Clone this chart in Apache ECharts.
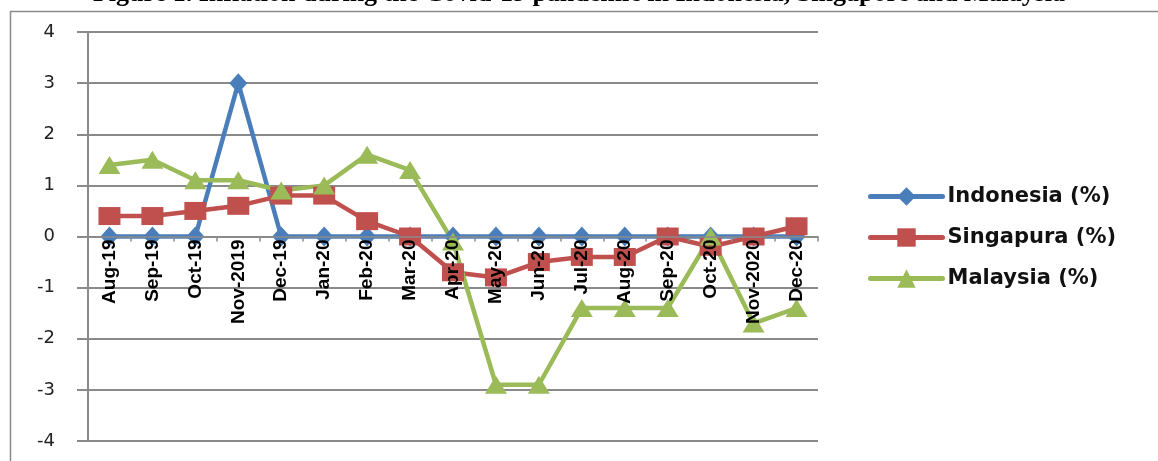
<!DOCTYPE html>
<html>
<head>
<meta charset="utf-8">
<script src="https://cdn.jsdelivr.net/npm/echarts@6/dist/echarts.min.js"></script>
<style>
    html, body { margin: 0; padding: 0; background: #fff; }
    #main { width: 1158px; height: 461px; }
</style>
</head>
<body>
<div id="main"></div>
<script>
var months = ['Aug-19', 'Sep-19', 'Oct-19', 'Nov-2019', 'Dec-19', 'Jan-20', 'Feb-20', 'Mar-20', 'Apr-20',
    'May-20', 'Jun-20', 'Jul-20', 'Aug-20', 'Sep-20', 'Oct-20', 'Nov-2020', 'Dec-20'];
var indonesia = [0, 0, 0, 3, 0, 0, 0, 0, 0, 0, 0, 0, 0, 0, 0, 0, 0];
var singapura = [0.4, 0.4, 0.5, 0.6, 0.8, 0.8, 0.3, 0, -0.7, -0.8, -0.5, -0.4, -0.4, 0, -0.2, 0, 0.2];
var malaysia = [1.4, 1.5, 1.1, 1.1, 0.9, 1.0, 1.6, 1.3, -0.1, -2.9, -2.9, -1.4, -1.4, -1.4, 0, -1.7, -1.4];
var yTicks = [-4, 4, 1];

var gridColor = '#8a8a8a';
// plot area: top 32, bottom 441 -> the zero line sits half way up
var gridTop = 32, gridBottom = 20;
var zeroOffset = -(461 - gridTop - gridBottom) / 2;

var myChart = echarts.init(document.getElementById('main'));

var option = {
    animation: false,
    backgroundColor: '#fff',
    title: {
        text: 'Figure 1. Inflation during the Covid-19 pandemic in Indonesia, Singapore and Malaysia',
        left: 'center',
        top: -24,
        textStyle: {
            fontFamily: 'Liberation Serif',
            fontWeight: 'bold',
            fontSize: 26,
            color: '#000'
        }
    },
    graphic: [
        {
            type: 'rect',
            left: 8,
            top: 9,
            shape: { width: 1300, height: 600 },
            style: { fill: 'none', stroke: gridColor, lineWidth: 1.5 },
            z: -1
        }
    ],
    grid: { left: 88, right: 340, top: gridTop, bottom: gridBottom, outerBoundsMode: 'none', containLabel: false },
    legend: {
        orient: 'vertical',
        left: 863,
        top: 181,
        itemWidth: 72,
        itemHeight: 23,
        itemGap: 20,
        lineStyle: { width: 5, cap: 'round' },
        textStyle: {
            fontFamily: 'DejaVu Sans',
            fontWeight: 'bold',
            fontSize: 21,
            color: '#111'
        },
        data: ['Indonesia (%)', 'Singapura (%)', 'Malaysia (%)']
    },
    xAxis: {
        type: 'category',
        data: months,
        boundaryGap: true,
        offset: zeroOffset,
        z: 5,
        axisLine: { onZero: false, lineStyle: { color: gridColor, width: 1.5 } },
        axisTick: { show: true, length: 5, lineStyle: { color: gridColor, width: 1.5 } },
        axisLabel: {
            interval: 0,
            rotate: 90,
            margin: 3,
            fontFamily: 'Liberation Sans',
            fontWeight: 'bold',
            fontSize: 19,
            color: '#000'
        }
    },
    yAxis: {
        type: 'value',
        min: yTicks[0],
        max: yTicks[1],
        interval: yTicks[2],
        axisLine: { show: true, lineStyle: { color: gridColor, width: 2 } },
        axisTick: { show: true, length: 11, lineStyle: { color: gridColor, width: 2 } },
        splitLine: { lineStyle: { color: gridColor, width: 2 } },
        axisLabel: {
            margin: 33,
            fontFamily: 'DejaVu Sans',
            fontSize: 18,
            color: '#222'
        }
    },
    series: [
        {
            name: 'Indonesia (%)',
            type: 'line',
            data: indonesia,
            symbol: 'diamond',
            symbolSize: [18, 20],
            lineStyle: { width: 4.5, color: '#4A7EBB' },
            itemStyle: { color: '#4A7EBB' }
        },
        {
            name: 'Singapura (%)',
            type: 'line',
            data: singapura,
            symbol: 'rect',
            symbolSize: [22, 18],
            lineStyle: { width: 4.5, color: '#C0504D' },
            itemStyle: { color: '#C0504D' }
        },
        {
            name: 'Malaysia (%)',
            type: 'line',
            data: malaysia,
            symbol: 'triangle',
            symbolSize: [22, 18],
            lineStyle: { width: 4.5, color: '#9BBB59' },
            itemStyle: { color: '#9BBB59' }
        }
    ]
};

myChart.setOption(option);
</script>
</body>
</html>
